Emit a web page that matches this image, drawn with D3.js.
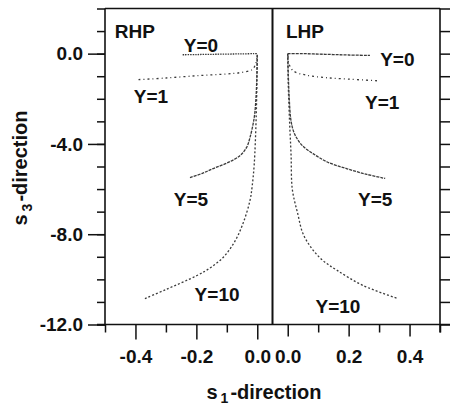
<!DOCTYPE html>
<html>
<head>
<meta charset="utf-8">
<script src="https://cdn.jsdelivr.net/npm/d3@7"></script>
<style>
html,body{margin:0;padding:0;background:#fff;}
svg{display:block;}
text{font-family:"Liberation Sans",Arial,sans-serif;font-weight:bold;fill:#111;}
</style>
</head>
<body>
<svg id="chart" width="451" height="408"></svg>
<script>
// ---------- data ----------
// RHP panel (left), s1 <= 0
const rhpY0_s1 = [-0.245, -0.2, -0.15, -0.1, -0.05, -0.01, 0.0];
const rhpY0_s3 = [-0.05, -0.04, -0.03, -0.02, -0.01, 0.0, 0.0];
const rhpY1_s1 = [-0.39, -0.3, -0.19, -0.1, -0.056, -0.017, -0.005, -0.001];
const rhpY1_s3 = [-1.15, -1.08, -0.97, -0.9, -0.84, -0.71, -0.45, -0.2];
const rhpY5_s1 = [-0.221, -0.18, -0.145, -0.1, -0.057, -0.035, -0.024, -0.01, -0.004, -0.001, 0.0];
const rhpY5_s3 = [-5.49, -5.3, -5.09, -4.85, -4.52, -4.15, -3.72, -2.83, -1.9, -0.8, 0.0];
const rhpY10_s1 = [-0.369, -0.3, -0.198, -0.15, -0.11, -0.075, -0.047, -0.024, -0.017, -0.01, -0.004, -0.001, 0.0];
const rhpY10_s3 = [-10.85, -10.45, -9.83, -9.45, -9.0, -8.35, -7.53, -6.51, -5.9, -4.9, -3.0, -1.2, 0.0];
// LHP panel (right), s1 >= 0
const lhpY0_s1 = [0.0, 0.05, 0.1, 0.15, 0.2, 0.27];
const lhpY0_s3 = [0.0, 0.0, -0.02, -0.04, -0.06, -0.08];
const lhpY1_s1 = [0.001, 0.003, 0.017, 0.06, 0.122, 0.2, 0.293];
const lhpY1_s3 = [-0.1, -0.4, -0.75, -0.95, -1.06, -1.13, -1.2];
const lhpY5_s1 = [0.0, 0.002, 0.005, 0.01, 0.018, 0.03, 0.05, 0.083, 0.13, 0.195, 0.26, 0.32];
const lhpY5_s3 = [0.0, -1.0, -2.0, -2.9, -3.4, -3.75, -4.1, -4.43, -4.8, -5.1, -5.35, -5.53];
const lhpY10_s1 = [0.0, 0.002, 0.006, 0.011, 0.015, 0.033, 0.05, 0.08, 0.116, 0.162, 0.247, 0.362];
const lhpY10_s3 = [0.0, -1.5, -3.0, -4.5, -6.0, -7.1, -7.97, -8.65, -9.17, -9.6, -10.27, -10.85];

const yMajorTicks = [-12, -8, -4, 0];
const yMinorTicks = [-12, -11, -10, -9, -8, -7, -6, -5, -4, -3, -2, -1, 0, 1, 2];
const xLeftMajor = [-0.4, -0.2, 0.0];
const xLeftMinor = [-0.5, -0.3, -0.1];
const xRightMajor = [0.0, 0.2, 0.4];
const xRightMinor = [0.1, 0.3, 0.5];

const panelLabels = [
  {text: "RHP", panel: "L", s1: -0.468, s3: 0.71, anchor: "start"},
  {text: "LHP", panel: "R", s1: -0.006, s3: 0.71, anchor: "start"}
];
const curveLabels = [
  {text: "Y=0", panel: "L", s1: -0.185, s3: 0.07},
  {text: "Y=1", panel: "L", s1: -0.349, s3: -2.17},
  {text: "Y=5", panel: "L", s1: -0.218, s3: -6.73},
  {text: "Y=10", panel: "L", s1: -0.132, s3: -10.98},
  {text: "Y=0", panel: "R", s1: 0.36, s3: -0.53},
  {text: "Y=1", panel: "R", s1: 0.31, s3: -2.44},
  {text: "Y=5", panel: "R", s1: 0.287, s3: -6.73},
  {text: "Y=10", panel: "R", s1: 0.165, s3: -11.47}
];

// ---------- layout ----------
const svg = d3.select("#chart");
const pLeft = 105, pRight = 440, pTop = 8.5, pBottom = 324.5, pDivide = 272.5;
const xL = d3.scaleLinear().domain([-0.5, 0.05]).range([pLeft, pDivide]);
const xR = d3.scaleLinear().domain([-0.05, 0.5]).range([pDivide, pRight]);
const y = d3.scaleLinear().domain([-12, 2]).range([pBottom, pTop]);
const fmt = d => d.toFixed(1).replace("-0.0", "0.0");

const series = [
  {x: xL, s1: rhpY0_s1, s3: rhpY0_s3, dash: "1.5,1"},
  {x: xL, s1: rhpY1_s1, s3: rhpY1_s3, dash: "2,3,1,3"},
  {x: xL, s1: rhpY5_s1, s3: rhpY5_s3, dash: "3,1"},
  {x: xL, s1: rhpY10_s1, s3: rhpY10_s3, dash: "2,2"},
  {x: xR, s1: lhpY0_s1, s3: lhpY0_s3, dash: "3,1"},
  {x: xR, s1: lhpY1_s1, s3: lhpY1_s3, dash: "2,3,1,3"},
  {x: xR, s1: lhpY5_s1, s3: lhpY5_s3, dash: "3,1"},
  {x: xR, s1: lhpY10_s1, s3: lhpY10_s3, dash: "2,2"}
];

series.forEach(s => {
  const pts = s.s1.map((v, i) => [v, s.s3[i]]);
  const line = d3.line().x(d => s.x(d[0])).y(d => y(d[1])).curve(d3.curveCatmullRom.alpha(0.5));
  svg.append("path").attr("d", line(pts))
    .attr("fill", "none").attr("stroke", "#3a3a3a").attr("stroke-width", 1.3)
    .attr("stroke-dasharray", s.dash);
});

// ---------- axes ----------
function styleAxis(g) {
  g.select(".domain").remove();
  g.selectAll("line").attr("stroke", "#111").attr("stroke-width", 1.5);
  g.selectAll("text").attr("font-size", 19).attr("fill", "#111")
    .attr("font-family", "Liberation Sans, Arial, sans-serif").attr("font-weight", "bold");
}
// left axis
svg.append("g").attr("transform", `translate(${pLeft},0)`)
  .call(d3.axisLeft(y).tickValues(yMinorTicks).tickSize(8).tickFormat("")).call(styleAxis);
svg.append("g").attr("transform", `translate(${pLeft},0)`)
  .call(d3.axisLeft(y).tickValues(yMajorTicks).tickSize(17).tickPadding(5).tickFormat(fmt)).call(styleAxis);
// right axis (ticks outward)
svg.append("g").attr("transform", `translate(${pRight},0)`)
  .call(d3.axisRight(y).tickValues(yMinorTicks).tickSize(10).tickFormat("")).call(styleAxis);
// bottom axes
svg.append("g").attr("transform", `translate(0,${pBottom})`)
  .call(d3.axisBottom(xL).tickValues(xLeftMinor).tickSize(8).tickFormat("")).call(styleAxis);
svg.append("g").attr("transform", `translate(0,${pBottom})`)
  .call(d3.axisBottom(xL).tickValues(xLeftMajor).tickSize(15).tickPadding(10).tickFormat(fmt)).call(styleAxis);
svg.append("g").attr("transform", `translate(0,${pBottom})`)
  .call(d3.axisBottom(xR).tickValues(xRightMinor).tickSize(8).tickFormat("")).call(styleAxis);
svg.append("g").attr("transform", `translate(0,${pBottom})`)
  .call(d3.axisBottom(xR).tickValues(xRightMajor).tickSize(12).tickPadding(13).tickFormat(fmt)).call(styleAxis);

// frame lines
const frame = svg.append("g").attr("stroke", "#111").attr("stroke-width", 1.6);
frame.append("line").attr("x1", pLeft).attr("x2", pRight).attr("y1", pTop).attr("y2", pTop);
frame.append("line").attr("x1", pLeft - 8).attr("x2", pRight + 10).attr("y1", pBottom).attr("y2", pBottom);
frame.append("line").attr("x1", pLeft).attr("x2", pLeft).attr("y1", pTop).attr("y2", pBottom);
frame.append("line").attr("x1", pRight).attr("x2", pRight).attr("y1", pTop).attr("y2", pBottom + 8);
frame.append("line").attr("x1", pDivide).attr("x2", pDivide).attr("y1", pTop).attr("y2", pBottom).attr("stroke-width", 2);

// ---------- labels ----------
panelLabels.concat(curveLabels).forEach(l => {
  const xs = l.panel === "L" ? xL : xR;
  svg.append("text").attr("x", xs(l.s1)).attr("y", y(l.s3))
    .attr("text-anchor", l.anchor || "middle").attr("font-size", 19).text(l.text);
});

// axis titles
const xt = svg.append("text").attr("x", 264).attr("y", 399).attr("text-anchor", "middle").attr("font-size", 20);
xt.append("tspan").text("s");
xt.append("tspan").attr("font-size", 14).attr("dy", 4).attr("dx", 3).text("1");
xt.append("tspan").attr("dy", -4).attr("dx", 2).text("-direction");

const yt = svg.append("text").attr("transform", "translate(27,168) rotate(-90)").attr("text-anchor", "middle").attr("font-size", 20);
yt.append("tspan").text("s");
yt.append("tspan").attr("font-size", 14).attr("dy", 5).attr("dx", 3).text("3");
yt.append("tspan").attr("dy", -5).attr("dx", 2).text("-direction");
</script>
</body>
</html>
